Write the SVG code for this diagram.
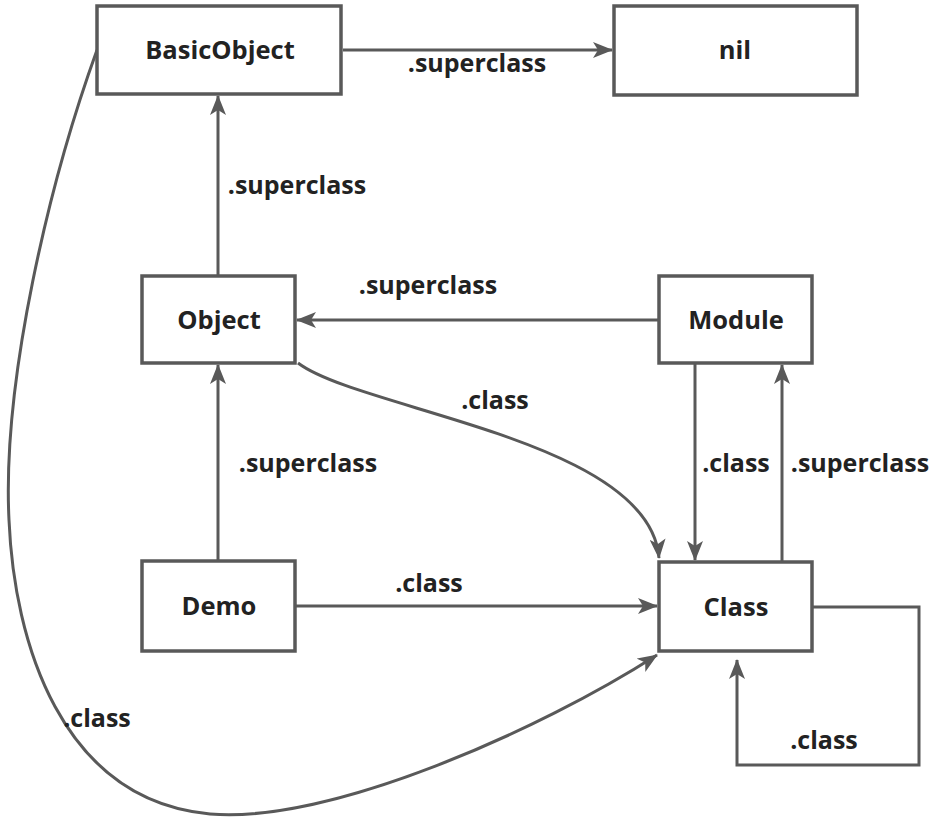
<svg xmlns="http://www.w3.org/2000/svg" width="946" height="818" viewBox="0 0 946 818">
<style>
.box{fill:#fff;stroke:#595959;stroke-width:3.5}
.ln{fill:none;stroke:#595959;stroke-width:3}
.nt{font-family:"Open Sans","Noto Sans","Liberation Sans",sans-serif;font-weight:bold;font-size:25.5px;fill:#222;text-anchor:middle}
.lb{font-family:"Open Sans","Noto Sans","Liberation Sans",sans-serif;font-weight:bold;font-size:25px;fill:#222;text-anchor:middle}
</style>
<defs>
<marker id="ah" viewBox="0 0 20 16" markerWidth="20" markerHeight="16" refX="19" refY="8" orient="auto" markerUnits="userSpaceOnUse">
<path d="M0,0 L20,8 L0,16 L5,8 Z" fill="#595959"/>
</marker>
</defs>
<rect width="946" height="818" fill="#fff"/>
<g id="connectors">
<path class="ln" d="M343,50 L612,50" marker-end="url(#ah)"/>
<path class="ln" d="M218,276 L218,96" marker-end="url(#ah)"/>
<path class="ln" d="M659,320 L297,320" marker-end="url(#ah)"/>
<path class="ln" d="M298,363 C360,410 650,440 659,558" marker-end="url(#ah)"/>
<path class="ln" d="M218,561 L218,365" marker-end="url(#ah)"/>
<path class="ln" d="M295,606 L657,606" marker-end="url(#ah)"/>
<path class="ln" d="M695,363 L695,560" marker-end="url(#ah)"/>
<path class="ln" d="M782,562 L782,365" marker-end="url(#ah)"/>
<path class="ln" d="M812,607 L919,607 L919,765 L737,765 L737,660" marker-end="url(#ah)"/>
<path class="ln" d="M97,50 C50,180 2,380 9,520 C14,640 60,800 210,814 C330,824 540,730 657,655" marker-end="url(#ah)"/>
<text class="lb" x="477" y="72">.superclass</text>
<text class="lb" x="297" y="194">.superclass</text>
<text class="lb" x="428" y="294">.superclass</text>
<text class="lb" x="495" y="409">.class</text>
<text class="lb" x="308" y="472">.superclass</text>
<text class="lb" x="736" y="472">.class</text>
<text class="lb" x="860" y="472">.superclass</text>
<text class="lb" x="429" y="592">.class</text>
<text class="lb" x="824" y="749">.class</text>
<text class="lb" x="97" y="727">.class</text>
</g>
<g id="BasicObject"><rect class="box" x="97" y="6" width="244" height="88"/><text class="nt" x="220" y="59">BasicObject</text></g>
<g id="nil"><rect class="box" x="614" y="6" width="243" height="89"/><text class="nt" x="735" y="59">nil</text></g>
<g id="Object"><rect class="box" x="142" y="276" width="153" height="87"/><text class="nt" x="219" y="329">Object</text></g>
<g id="Module"><rect class="box" x="659" y="276" width="153" height="87"/><text class="nt" x="736" y="329">Module</text></g>
<g id="Demo"><rect class="box" x="142" y="561" width="153" height="90"/><text class="nt" x="219" y="615">Demo</text></g>
<g id="Class"><rect class="box" x="659" y="562" width="153" height="89"/><text class="nt" x="736" y="616">Class</text></g>
</svg>
